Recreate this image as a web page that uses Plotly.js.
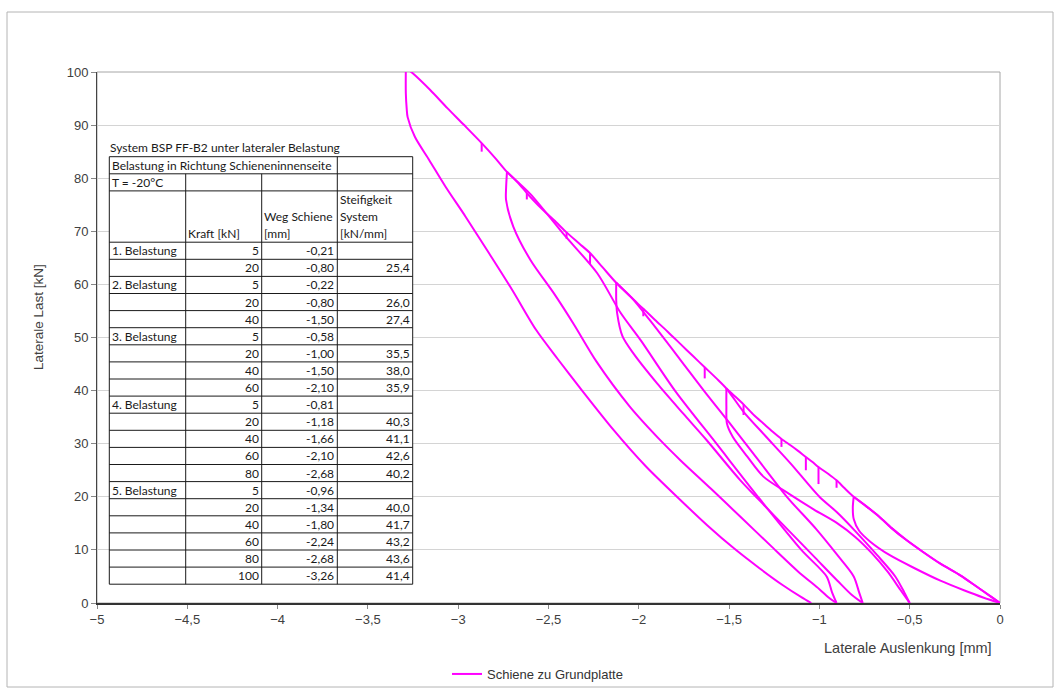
<!DOCTYPE html>
<html>
<head>
<meta charset="utf-8">
<script src="https://cdn.plot.ly/plotly-3.0.1.min.js"></script>
<style>html,body{margin:0;padding:0;background:#fff;}#chart{width:1057px;height:689px;}</style>
</head>
<body>
<div id="chart"></div>
<script>
// ---------- curve data (x: Laterale Auslenkung [mm], y: Laterale Last [kN]) ----------
// 1. Belastung: 0 -> 20 kN, unloading back to 0
const load1X = [0, -0.05, -0.13, -0.22, -0.33, -0.43, -0.52, -0.60, -0.67, -0.74, -0.81];
const load1Y = [0, 1.2, 3.1, 5.2, 7.4, 9.7, 11.9, 14.1, 16.3, 18.2, 20.0];
const unload1X = [-0.81, -0.815, -0.81, -0.78, -0.72, -0.61, -0.47, -0.33, -0.20, -0.09, 0];
const unload1Y = [20.0, 18.0, 15.8, 13.6, 11.6, 9.0, 6.5, 4.2, 2.4, 1.0, 0];
// 2. Belastung: reload along the first curve, then 20 -> 40 kN
const load2X = [-0.86, -0.905, -0.95, -1.005, -1.04, -1.075, -1.12, -1.16, -1.21, -1.26, -1.31, -1.36, -1.42, -1.47, -1.515];
const load2Y = [21.6, 23.1, 24.3, 25.6, 26.6, 27.5, 28.7, 29.7, 30.9, 32.3, 33.8, 35.3, 37.4, 39.0, 40.4];
const unload2X = [-1.515, -1.515, -1.512, -1.48, -1.40, -1.31, -1.17, -1.03, -0.90, -0.80, -0.71, -0.62, -0.55, -0.51, -0.50];
const unload2Y = [40.4, 37.0, 33.8, 31.3, 27.6, 23.8, 20.6, 17.6, 15.0, 12.4, 9.4, 5.8, 2.4, 0.5, 0];
// 3. Belastung
const load3X = [-0.50, -0.53, -0.58, -0.68, -0.80, -0.90, -1.00, -1.16, -1.30, -1.42, -1.515, -1.57, -1.635, -1.70, -1.77, -1.84, -1.91, -1.975, -2.05, -2.125];
const load3Y = [0, 2, 5, 9, 13.5, 17, 20, 26.3, 31.5, 36, 40.4, 42.3, 44.4, 46.5, 48.8, 51.1, 53.3, 55.4, 57.8, 60.3];
const unload3X = [-2.125, -2.125, -2.12, -2.09, -2.03, -1.90, -1.755, -1.625, -1.44, -1.30, -1.16, -1.02, -0.90, -0.82, -0.76];
const unload3Y = [60.3, 57.0, 54.6, 50.2, 47.0, 41.4, 35.7, 30.7, 23.2, 18.2, 13.3, 8.4, 4.2, 1.5, 0];
// 4. Belastung
const load4X = [-0.76, -0.78, -0.81, -0.90, -1.02, -1.18, -1.34, -1.50, -1.64, -1.77, -1.94, -2.04, -2.125, -2.20, -2.27, -2.33, -2.40, -2.46, -2.53, -2.585, -2.62, -2.67, -2.73];
const load4Y = [0, 2, 5, 9, 14, 20, 27, 34, 40, 45.8, 53.3, 57.5, 60.3, 63.2, 65.9, 67.7, 69.8, 71.8, 74.0, 75.9, 77.2, 79.2, 81.2];
const unload4X = [-2.73, -2.735, -2.735, -2.695, -2.60, -2.47, -2.36, -2.235, -2.05, -1.865, -1.77, -1.60, -1.43, -1.27, -1.12, -1.00, -0.94, -0.905];
const unload4Y = [81.2, 78.0, 75.9, 70.9, 64.6, 58.3, 52.5, 45.5, 37.0, 30.1, 26.9, 21.5, 16.0, 10.8, 6.0, 2.6, 0.8, 0];
// 5. Belastung
const load5X = [-0.905, -0.93, -0.96, -1.10, -1.34, -1.57, -1.80, -1.99, -2.10, -2.23, -2.42, -2.60, -2.73, -2.79, -2.87, -2.97, -3.06, -3.155, -3.25, -3.29];
const load5Y = [0, 2, 5, 10, 20, 30, 40, 49.5, 54.6, 62.1, 69.6, 77, 81.2, 83.6, 86.6, 90.1, 93.2, 96.6, 99.7, 100.8];
const unload5X = [-3.29, -3.29, -3.285, -3.28, -3.24, -3.16, -3.07, -2.96, -2.83, -2.70, -2.57, -2.45, -2.33, -2.14, -1.96, -1.77, -1.62, -1.47, -1.33, -1.20, -1.10, -1.045];
const unload5Y = [100.8, 96, 93, 91.5, 87.8, 83.4, 78.4, 72.8, 65.9, 58.9, 51.5, 46, 40.7, 32.6, 25.7, 19.4, 14.6, 10.2, 6.5, 3.3, 1.1, 0];
// short load drops (spikes) on the loading curves
const spikeX = [-0.905, -1.005, -1.075, -1.21, -1.42, -1.635, -1.975, -2.27, -2.40, -2.62, -2.87];
const spikeTopY = [23.1, 25.6, 27.5, 30.9, 37.4, 44.4, 55.4, 65.9, 69.8, 77.2, 86.6];
const spikeBotY = [21.7, 22.4, 25.0, 29.4, 35.4, 42.3, 54.0, 63.8, 68.6, 76.0, 85.0];

// ---------- table data ----------
const tableTitle = 'System BSP FF-B2 unter lateraler Belastung';
const tableHead1 = 'Belastung in Richtung Schieneninnenseite';
const tableHead2 = 'T = -20°C';
const colHeadKraft = ['Kraft [kN]'];
const colHeadWeg = ['Weg Schiene', '[mm]'];
const colHeadSteif = ['Steifigkeit', 'System', '[kN/mm]'];
const loadCase = ['1. Belastung', '', '2. Belastung', '', '', '3. Belastung', '', '', '', '4. Belastung', '', '', '', '', '5. Belastung', '', '', '', '', ''];
const kraft = [5, 20, 5, 20, 40, 5, 20, 40, 60, 5, 20, 40, 60, 80, 5, 20, 40, 60, 80, 100];
const weg = [-0.21, -0.80, -0.22, -0.80, -1.50, -0.58, -1.00, -1.50, -2.10, -0.81, -1.18, -1.66, -2.10, -2.68, -0.96, -1.34, -1.80, -2.24, -2.68, -3.26];
const steif = [null, 25.4, null, 26.0, 27.4, null, 35.5, 38.0, 35.9, null, 40.3, 41.1, 42.6, 40.2, null, 40.0, 41.7, 43.2, 43.6, 41.4];

// ---------- assemble the path (one series) ----------
const segX = [load1X, unload1X, load1X.concat(load2X), unload2X, load3X, unload3X, load4X, unload4X, load5X, unload5X];
const segY = [load1Y, unload1Y, load1Y.concat(load2Y), unload2Y, load3Y, unload3Y, load4Y, unload4Y, load5Y, unload5Y];
let pathX = [], pathY = [];
segX.forEach((sx, i) => { pathX = pathX.concat(sx, [null]); pathY = pathY.concat(segY[i], [null]); });
const spX = [], spY = [];
spikeX.forEach((x, i) => { spX.push(x, x, null); spY.push(spikeTopY[i], spikeBotY[i], null); });

// ---------- geometry helpers ----------
const W = 1057, H = 689;
const M = {l: 97, r: 57, t: 72, b: 86, autoexpand: false};
const PW = W - M.l - M.r, PH = H - M.t - M.b;
const px = v => (v - M.l) / PW;          // pixel x -> paper x
const py = v => (H - M.b - v) / PH;      // pixel y -> paper y

const shapes = [];
const annotations = [];
shapes.push({type: 'rect', xref: 'paper', yref: 'paper', x0: px(7), x1: px(1053), y0: py(687), y1: py(12),
  line: {color: '#b4b4b4', width: 1}, layer: 'below'});
shapes.push({type: 'rect', xref: 'paper', yref: 'paper', x0: 0, x1: 1, y0: 0, y1: 1,
  line: {color: '#a6a6a6', width: 1}, layer: 'below'});

// table
const colX = [109.3, 185.7, 261.7, 337.3, 412.7];
const tL = colX[0], tR = colX[4];
const tTop = 156.7, rowH = 17.1, nRows = 25;
const rowY = i => tTop + i * rowH;
const tableFont = {family: 'Lato, "Open Sans", sans-serif', size: 12, color: '#1a1a1a'};
const lineStyle = {color: '#1a1a1a', width: 1};
shapes.push({type: 'rect', xref: 'paper', yref: 'paper', x0: px(tL), x1: px(tR), y0: py(rowY(nRows)), y1: py(tTop),
  fillcolor: '#ffffff', line: {width: 0}, layer: 'above'});
const hLines = [0, 1, 2].concat(Array.from({length: 21}, (_, k) => k + 5));
hLines.forEach(i => shapes.push({type: 'line', xref: 'paper', yref: 'paper', x0: px(tL), x1: px(tR), y0: py(rowY(i)), y1: py(rowY(i)), line: lineStyle, layer: 'above'}));
[[colX[0], 0], [colX[3], 0], [colX[4], 0], [colX[1], 1], [colX[2], 1]].forEach(([x, r0]) =>
  shapes.push({type: 'line', xref: 'paper', yref: 'paper', x0: px(x), x1: px(x), y0: py(rowY(r0)), y1: py(rowY(nRows)), line: lineStyle, layer: 'above'}));

function txt(text, xPix, yPix, anchor, font) {
  annotations.push({text: text, xref: 'paper', yref: 'paper', x: px(xPix), y: py(yPix), xanchor: anchor, yanchor: 'middle',
    showarrow: false, font: font || tableFont, borderpad: 0});
}
const mid = i => rowY(i) + rowH / 2;
txt(tableTitle, 108.5, 147, 'left');
txt(tableHead1, 110.5, mid(0), 'left');
txt(tableHead2, 110.5, mid(1), 'left');
txt(colHeadKraft[0], colX[1] + 1.5, mid(4), 'left');
colHeadWeg.forEach((s, k) => txt(s, colX[2] + 1.5, mid(3 + k), 'left'));
colHeadSteif.forEach((s, k) => txt(s, colX[3] + 1.5, mid(2 + k), 'left'));
const fmt = (v, d) => v.toFixed(d).replace('.', ',');
kraft.forEach((k, j) => {
  const r = 5 + j;
  if (loadCase[j]) txt(loadCase[j], colX[0] + 2, mid(r), 'left');
  txt(String(k), colX[2] - 2, mid(r), 'right');
  txt(fmt(weg[j], 2), colX[3] - 2, mid(r), 'right');
  if (steif[j] !== null) txt(fmt(steif[j], 1), colX[4] - 2, mid(r), 'right');
});

// axis titles
const axisFont = {family: '"Liberation Sans", Arial, sans-serif', size: 13, color: '#404040'};
annotations.push({text: 'Laterale Last [kN]', xref: 'paper', yref: 'paper', x: px(38), y: py(317), textangle: -90,
  xanchor: 'center', yanchor: 'middle', showarrow: false,
  font: {family: axisFont.family, size: 13.5, color: '#404040'}});
annotations.push({text: 'Laterale Auslenkung [mm]', xref: 'paper', yref: 'paper', x: px(994), y: py(648),
  xanchor: 'right', yanchor: 'middle', showarrow: false,
  font: {family: axisFont.family, size: 14.5, color: '#404040'}});

const lineStyleCurve = {color: '#ff00ff', width: 2, simplify: false};
const trace = {
  x: pathX, y: pathY, type: 'scatter', mode: 'lines', name: 'Schiene zu Grundplatte',
  line: Object.assign({shape: 'spline', smoothing: 0.8}, lineStyleCurve), connectgaps: false, hoverinfo: 'skip',
  legendgroup: 'a'
};
const spikeTrace = {
  x: spX, y: spY, type: 'scatter', mode: 'lines', name: 'Schiene zu Grundplatte', showlegend: false,
  line: lineStyleCurve, connectgaps: false, hoverinfo: 'skip', legendgroup: 'a'
};

const layout = {
  width: W, height: H, margin: M,
  paper_bgcolor: '#ffffff', plot_bgcolor: '#ffffff',
  separators: ',.',
  font: axisFont,
  showlegend: true,
  legend: {orientation: 'h', x: px(447), y: py(674), xanchor: 'left', yanchor: 'middle',
    font: {family: '"Liberation Sans", Arial, sans-serif', size: 13, color: '#333'}, bgcolor: 'rgba(0,0,0,0)'},
  xaxis: {range: [-5, 0], dtick: 0.5, tick0: 0, showgrid: false, zeroline: false, showline: true,
    linecolor: '#333', linewidth: 1.5, ticks: 'outside', ticklen: 4, tickcolor: '#888', tickwidth: 1,
    tickfont: axisFont, fixedrange: true},
  yaxis: {range: [0, 100], dtick: 10, showgrid: true, gridcolor: '#d4d4d4', gridwidth: 1, zeroline: false,
    showline: true, linecolor: '#444', linewidth: 1, ticks: 'outside', ticklen: 5, tickcolor: '#888',
    tickfont: axisFont, fixedrange: true},
  shapes: shapes,
  annotations: annotations
};

Plotly.newPlot('chart', [trace, spikeTrace], layout, {displayModeBar: false, staticPlot: true});
</script>
</body>
</html>
